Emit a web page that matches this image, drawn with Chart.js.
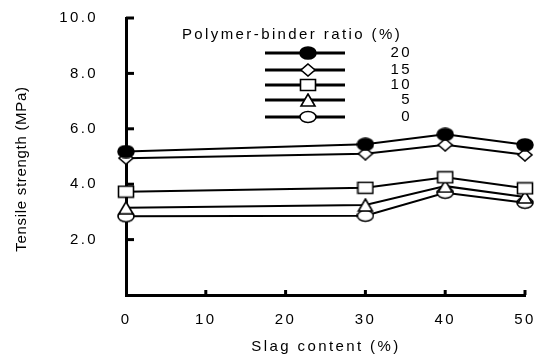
<!DOCTYPE html>
<html>
<head>
<meta charset="utf-8">
<script src="https://cdn.jsdelivr.net/npm/chart.js@4/dist/chart.umd.min.js"></script>
<style>
  html, body { margin: 0; padding: 0; background: #fff; }
  #wrap { width: 544px; height: 360px; }
</style>
</head>
<body>
<div id="wrap"><canvas id="chartTensile" width="544" height="360"></canvas></div>
<script>
// slag content (%) along x, tensile strength (MPa) per polymer-binder ratio
var slagContent = [0, 30, 40, 50];
var ratio20 = [5.18, 5.44, 5.80, 5.42];
var ratio15 = [4.94, 5.10, 5.42, 5.06];
var ratio10 = [3.73, 3.87, 4.25, 3.85];
var ratio5  = [3.15, 3.25, 3.93, 3.54];
var ratio0  = [2.84, 2.86, 3.69, 3.33];
var ratioLabels = ['20', '15', '10', '5', '0'];
var markerShapes = ['disc', 'diamond', 'square', 'triangle', 'oval'];

var FONT = '15px "Liberation Sans"';

function makeMarker(shape) {
    var c = document.createElement('canvas');
    c.width = 18; c.height = 14;
    var g = c.getContext('2d');
    g.lineWidth = 1.6;
    g.strokeStyle = '#000';
    g.fillStyle = shape === 'disc' ? '#000' : '#fff';
    g.beginPath();
    if (shape === 'disc') g.ellipse(9, 7, 8, 6, 0, 0, Math.PI * 2);
    else if (shape === 'oval') g.ellipse(9, 7, 8, 5.5, 0, 0, Math.PI * 2);
    else if (shape === 'diamond') { g.moveTo(9, 1); g.lineTo(16, 7); g.lineTo(9, 13); g.lineTo(2, 7); g.closePath(); }
    else if (shape === 'square') g.rect(1.5, 1.5, 15, 11);
    else if (shape === 'triangle') { g.moveTo(9, 1); g.lineTo(16, 13); g.lineTo(2, 13); g.closePath(); }
    g.fill();
    g.stroke();
    return c;
}

var markers = markerShapes.map(makeMarker);
var seriesValues = [ratio20, ratio15, ratio10, ratio5, ratio0];

var datasets = seriesValues.map(function (vals, i) {
    return {
        label: ratioLabels[i],
        data: slagContent.map(function (x, j) { return { x: x, y: vals[j] }; }),
        borderColor: '#000', borderWidth: 2, tension: 0,
        pointStyle: markers[i], pointRadius: 8, clip: false
    };
});

// wide letter spacing for every label the chart draws
var spacing = {
    id: 'spacing',
    beforeUpdate: function (chart) { chart.ctx.letterSpacing = '2.4px'; },
    beforeDraw: function (chart) { chart.ctx.letterSpacing = '2.4px'; }
};

// inward axis ticks, axis titles and the legend block
var axisDecor = {
    id: 'axisDecor',
    afterDraw: function (chart) {
        var ctx = chart.ctx, xs = chart.scales.x, ys = chart.scales.y, area = chart.chartArea;
        ctx.save();
        ctx.fillStyle = '#000';
        [2, 4, 6, 8, 10].forEach(function (v) {
            var py = ys.getPixelForValue(v);
            ctx.fillRect(area.left, py - 1.5, 8, 3);
        });
        [10, 20, 30, 40, 50].forEach(function (v) {
            var px = xs.getPixelForValue(v);
            ctx.fillRect(px - 1.5, area.bottom - 5, 3, 5);
        });

        ctx.font = FONT;
        ctx.textBaseline = 'middle';
        ctx.textAlign = 'center';
        ctx.letterSpacing = '2.4px';
        ctx.fillText('Slag content (%)', 326, 347);
        ctx.fillText('Polymer-binder ratio (%)', 292, 35);

        var rowY = [53, 70, 85, 100, 117];
        rowY.forEach(function (y, i) {
            ctx.lineWidth = 3;
            ctx.strokeStyle = '#000';
            ctx.beginPath();
            ctx.moveTo(265, y); ctx.lineTo(345, y);
            ctx.stroke();
            ctx.drawImage(markers[i], 308 - 9, y - 7);
            ctx.textAlign = 'right';
            ctx.fillText(ratioLabels[i], 412, y);
        });

        ctx.save();
        ctx.translate(22, 169);
        ctx.rotate(-Math.PI / 2);
        ctx.textAlign = 'center';
        ctx.letterSpacing = '0.7px';
        ctx.fillText('Tensile strength (MPa)', 0, 0);
        ctx.restore();
        ctx.restore();
    }
};

Chart.defaults.font.family = '"Liberation Sans"';
Chart.defaults.font.size = 15;
Chart.defaults.color = '#000';

new Chart(document.getElementById('chartTensile').getContext('2d'), {
    type: 'line',
    data: { datasets: datasets },
    plugins: [spacing, axisDecor],
    options: {
        responsive: false,
        animation: false,
        layout: { padding: { left: 12, right: 19, top: 18, bottom: 4 } },
        plugins: { legend: { display: false }, tooltip: { enabled: false } },
        scales: {
            x: {
                type: 'linear', min: 0, max: 50,
                ticks: { stepSize: 10, padding: 16 },
                grid: { drawOnChartArea: false, drawTicks: false },
                border: { display: true, width: 3, color: '#000' },
                afterFit: function (s) {
                    s.height = 61;
                    s.paddingLeft = 0; s.paddingRight = 0;
                }
            },
            y: {
                min: 0, max: 10,
                ticks: {
                    stepSize: 2, padding: 28,
                    callback: function (v) { return v === 0 ? '' : v.toFixed(1); }
                },
                grid: { drawOnChartArea: false, drawTicks: false },
                border: { display: true, width: 3, color: '#000' },
                afterFit: function (s) {
                    s.width = 114;
                    s.paddingTop = 0; s.paddingBottom = 0;
                }
            }
        }
    }
});
</script>
</body>
</html>
